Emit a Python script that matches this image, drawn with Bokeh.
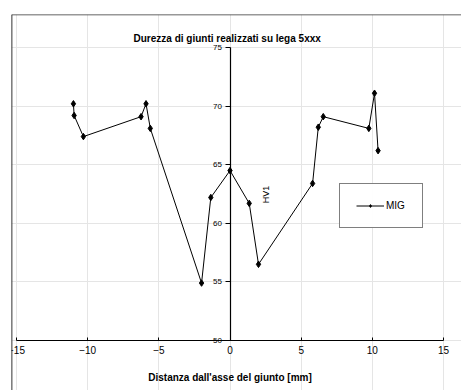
from math import pi
from bokeh.plotting import figure
from bokeh.models import Range1d, LinearAxis, Label, Span, Legend, LegendItem, FixedTicker
from bokeh.embed import file_html
from bokeh.resources import INLINE

# Data
dist = [-11.0, -10.95, -10.3, -6.25, -5.9, -5.6, -2.0, -1.35, 0.0, 1.35, 2.0,
        5.8, 6.2, 6.55, 9.75, 10.15, 10.4]
hv = [70.2, 69.2, 67.4, 69.1, 70.2, 68.1, 54.9, 62.2, 64.5, 61.7, 56.5,
      63.4, 68.2, 69.1, 68.1, 71.1, 66.2]
x_ticks = [-15, -10, -5, 0, 5, 10, 15]
y_ticks = [50, 55, 60, 65, 70, 75]
series_name = "MIG"
title_text = "Durezza di giunti realizzati su lega 5xxx"
x_title = "Distanza dall'asse del giunto [mm]"
y_title = "HV1"

FONT = "Liberation Sans"

p = figure(width=461, height=390, output_backend="svg", toolbar_location=None,
           x_range=Range1d(-15.35, 16.26), y_range=Range1d(45.73, 77.82),
           x_axis_location=None, y_axis_location=None,
           min_border_left=11, min_border_top=14, min_border_right=0, min_border_bottom=0)
p.outline_line_color = None
p.background_fill_color = "white"
p.border_fill_color = "white"

xaxis = LinearAxis(fixed_location=50, bounds=(-15, 15), ticker=FixedTicker(ticks=x_ticks))
xaxis.axis_line_width = 1.2
xaxis.axis_line_color = "black"
xaxis.major_tick_line_color = "black"
xaxis.major_tick_in = 3
xaxis.major_tick_out = 0
xaxis.minor_tick_line_color = None
xaxis.major_label_standoff = 6
xaxis.major_label_text_font = FONT
xaxis.major_label_text_font_size = "10px"
xaxis.major_label_text_color = "black"
xaxis.axis_label = x_title
xaxis.axis_label_text_font = FONT
xaxis.axis_label_text_font_style = "bold"
xaxis.axis_label_text_font_size = "10px"
xaxis.axis_label_text_color = "black"
xaxis.axis_label_standoff = 14
p.add_layout(xaxis, "below")

yaxis = LinearAxis(fixed_location=0, bounds=(50, 75), ticker=FixedTicker(ticks=y_ticks))
yaxis.axis_line_width = 1.2
yaxis.axis_line_color = "black"
yaxis.major_tick_line_color = "black"
yaxis.major_tick_in = 0
yaxis.major_tick_out = 5
yaxis.minor_tick_line_color = None
yaxis.major_label_standoff = 3
yaxis.major_label_text_font = FONT
yaxis.major_label_text_font_size = "8px"
yaxis.major_label_text_color = "black"
p.add_layout(yaxis, "left")

ln = p.line(dist, hv, line_color="black", line_width=1)
mk = p.scatter(dist, hv, marker="diamond", size=6.5, color="black")

legend = Legend(items=[LegendItem(label=series_name, renderers=[ln, mk])],
                location=(328, 162), margin=0, padding=16,
                glyph_width=28, glyph_height=7, label_height=7, label_standoff=2,
                label_text_font=FONT, label_text_font_size="10px",
                label_text_color="black",
                border_line_color="black", border_line_width=1,
                background_fill_color="white")
p.add_layout(legend)

p.add_layout(Label(x=-0.2, y=75.8, text=title_text, text_align="center",
                   text_baseline="middle", text_font=FONT, text_font_style="bold",
                   text_font_size="10px", text_color="black"))
p.add_layout(Label(x=2.52, y=62.46, text=y_title, angle=pi / 2, text_align="center",
                   text_baseline="middle", text_font=FONT, text_font_size="9px",
                   text_color="black"))

p.add_layout(Span(location=p.x_range.start, dimension="height", line_color="black", line_width=1.6))
p.add_layout(Span(location=p.y_range.end, dimension="width", line_color="#333333", line_width=1.4))

open("out.html", "w").write(file_html(p, INLINE))
